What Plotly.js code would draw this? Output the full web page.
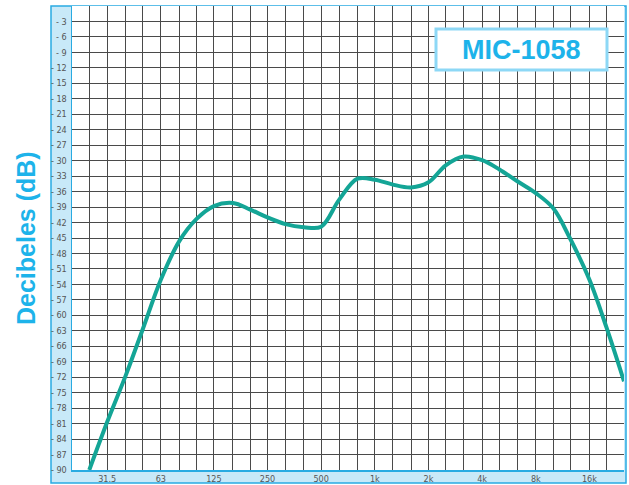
<!DOCTYPE html>
<html>
<head>
<meta charset="utf-8">
<script src="https://cdn.plot.ly/plotly-3.0.1.min.js"></script>
<style>
  html, body { margin: 0; padding: 0; background: #ffffff; }
  #chart { width: 629px; height: 485px; }
</style>
</head>
<body>
<div id="chart"></div>
<script>
// Third-octave frequencies (Hz), used for the curve and the grid
const freqs = [25, 31.5, 40, 50, 63, 80, 100, 125, 160, 200, 250, 315, 400, 500, 630, 800,
               1000, 1250, 1600, 2000, 2500, 3150, 4000, 5000, 6300, 8000, 10000, 12500,
               16000, 20000, 25000];
// Response (dB)
const levels = [-90, -80.7, -71.7, -62.6, -53.1, -45.6, -41.3, -38.8, -38.2, -39.5, -41.0,
                -42.3, -42.9, -42.8, -37.6, -33.5, -33.7, -34.6, -35.2, -34.2, -30.9,
                -29.2, -29.9, -31.7, -34.0, -36.3, -39.2, -45.2, -53.1, -62.5, -72.8];

// Grid / tick positions
const gridFreqs = [20].concat(freqs);
const xLabelFreqs = [31.5, 63, 125, 250, 500, 1000, 2000, 4000, 8000, 16000];
const xLabelText = ['31.5', '63', '125', '250', '500', '1k', '2k', '4k', '8k', '16k'];
const dbTicks = [];
for (let v = 0; v >= -90; v -= 3) dbTicks.push(v);
const dbText = dbTicks.map(v => v === 0 ? '' : '- ' + Math.abs(v));

const title = 'MIC-1058';
const yTitle = 'Decibeles (dB)';

const xTickText = gridFreqs.map(f => {
  const i = xLabelFreqs.indexOf(f);
  return i >= 0 ? xLabelText[i] : '';
});

// pixel helpers for layout decoration (plot area 72..624 x, 6..470 y)
const L = 72, R = 624, T = 6, B = 470;
const px = x => (x - L) / (R - L);
const py = y => (B - y) / (B - T);

const trace = {
  x: freqs,
  y: levels,
  type: 'scatter',
  mode: 'lines',
  line: { color: '#14a596', width: 4, shape: 'spline', smoothing: 1 },
  hoverinfo: 'x+y'
};

const narrow = '"Liberation Sans Narrow", "Arial Narrow", "DejaVu Sans Condensed", sans-serif';

const layout = {
  width: 629,
  height: 485,
  margin: { l: L, r: 629 - R, t: T, b: 485 - B },
  paper_bgcolor: '#ffffff',
  plot_bgcolor: '#ffffff',
  showlegend: false,
  xaxis: {
    type: 'log',
    range: [Math.log10(20), Math.log10(25000)],
    tickmode: 'array',
    tickvals: gridFreqs,
    ticktext: xTickText,
    showgrid: true,
    gridcolor: '#4a4a4a',
    gridwidth: 1,
    zeroline: false,
    showline: true,
    linecolor: '#29abe2',
    linewidth: 1.5,
    ticks: '',
    tickfont: { family: narrow, size: 9, color: '#555555' },
    fixedrange: true
  },
  yaxis: {
    range: [-90, 0],
    tickmode: 'array',
    tickvals: dbTicks,
    ticktext: dbText,
    showgrid: true,
    gridcolor: '#4a4a4a',
    gridwidth: 1,
    zeroline: false,
    showline: true,
    linecolor: '#29abe2',
    linewidth: 1.5,
    ticks: 'outside',
    ticklen: 2,
    tickcolor: 'rgba(0,0,0,0)',
    tickfont: { family: narrow, size: 9, color: '#555555' },
    title: { text: '' },
    fixedrange: true
  },
  shapes: [
    { type: 'rect', xref: 'paper', yref: 'paper', layer: 'below',
      x0: px(51), x1: px(626), y0: py(483), y1: py(T),
      fillcolor: '#c8e9f8', line: { color: '#29abe2', width: 1.5 } },
    { type: 'rect', xref: 'paper', yref: 'paper', layer: 'below',
      x0: 0, x1: 1, y0: 0, y1: 1,
      fillcolor: '#ffffff', line: { width: 0 } },
    { type: 'rect', xref: 'paper', yref: 'paper', layer: 'above',
      x0: px(436), x1: px(607), y0: py(70), y1: py(29),
      fillcolor: '#ffffff', line: { color: '#8dd8f6', width: 3 } }
  ],
  annotations: [
    { xref: 'paper', yref: 'paper', x: px(521.5), y: py(49.5),
      xanchor: 'center', yanchor: 'middle', showarrow: false,
      text: '<b>' + title + '</b>',
      font: { family: '"Liberation Sans", Arial, sans-serif', size: 27, color: '#1db3ea' } },
    { xref: 'paper', yref: 'paper', x: px(26), y: py(238),
      xanchor: 'center', yanchor: 'middle', showarrow: false, textangle: -90,
      text: '<b>' + yTitle + '</b>',
      font: { family: '"Liberation Sans", Arial, sans-serif', size: 25, color: '#1db3ea' } }
  ]
};

Plotly.newPlot('chart', [trace], layout, { displayModeBar: false, staticPlot: true });
</script>
</body>
</html>
